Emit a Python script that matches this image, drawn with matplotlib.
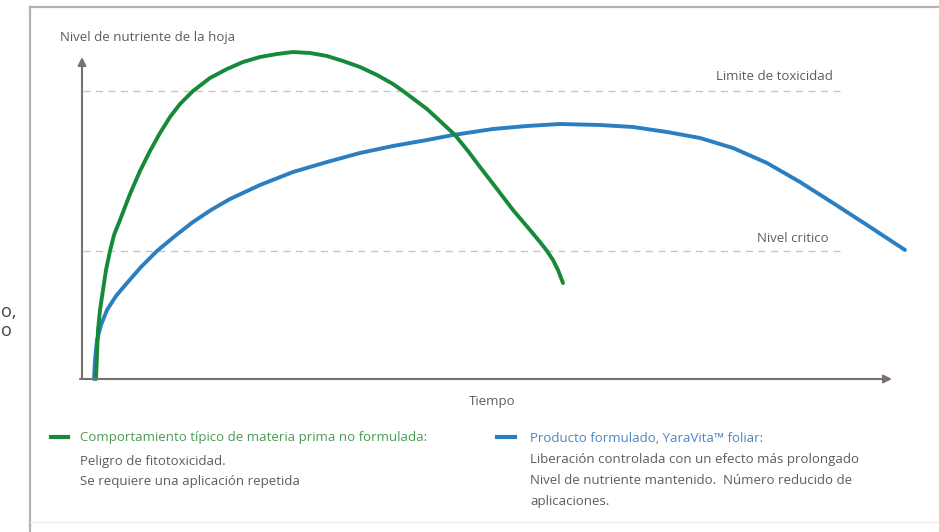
import matplotlib.pyplot as plt
from matplotlib.lines import Line2D

plt.rcParams['font.family'] = ['Open Sans', 'DejaVu Sans']

# Curvas (unidades arbitrarias: tiempo 0-810, nivel 0-320)
t_materia = [14, 15, 16, 18, 21, 24, 28, 32, 38, 48, 58, 68, 78, 88, 98, 111, 128, 145, 161, 178, 195,
             211, 228, 245, 261, 278, 295, 311, 321, 345, 358, 373, 386, 398, 415, 431, 448, 458, 465, 471, 476, 481]
n_materia = [0, 24, 49, 69, 89, 109, 128, 144, 159, 185, 208, 228, 246, 262, 275, 288, 301, 310, 317, 322, 325,
             327, 326, 323, 318, 312, 304, 295, 288, 270, 258, 244, 228, 212, 190, 169, 149, 137, 128, 119, 109, 96]

t_yaravita = [12, 13, 15, 19, 25, 34, 45, 59, 75, 93, 111, 129, 148, 178, 211, 245, 278, 311, 345, 371,
              411, 445, 478, 518, 551, 585, 618, 651, 685, 718, 751, 785, 823]
n_yaravita = [0, 19, 39, 54, 69, 83, 96, 112, 128, 143, 157, 169, 180, 194, 207, 217, 226, 233, 239, 244,
              250, 253, 255, 254, 252, 247, 241, 231, 216, 197, 176, 154, 129]

limite_toxicidad = 288
nivel_critico = 128

W, H = 939, 532
fig = plt.figure(figsize=(W / 100, H / 100), dpi=100)

def px(x, y):
    return x / W, 1 - y / H

# marco de la pagina
fig.add_artist(Line2D([30 / W, 1], [1 - 7 / H] * 2, color='#b8afab', lw=1.6, transform=fig.transFigure))
fig.add_artist(Line2D([30 / W] * 2, [0, 1 - 7 / H], color='#b8afab', lw=1.6, transform=fig.transFigure))
fig.add_artist(Line2D([30 / W, 1], [1 - 522 / H] * 2, color='#efeceb', lw=0.8, transform=fig.transFigure))

# area del grafico
ax = fig.add_axes([82 / W, (H - 379) / H, 810 / W, 320 / H])
ax.set_xlim(0, 810)
ax.set_ylim(0, 320)
ax.axis('off')

eje = '#7a706d'
ax.annotate('', xy=(0, 322), xytext=(0, 0), annotation_clip=False,
            arrowprops=dict(arrowstyle='-|>', color=eje, lw=1.5, mutation_scale=12, shrinkA=0, shrinkB=0))
ax.annotate('', xy=(810, 0), xytext=(-2, 0), annotation_clip=False,
            arrowprops=dict(arrowstyle='-|>', color=eje, lw=1.5, mutation_scale=12, shrinkA=0, shrinkB=0))

# lineas de referencia
for nivel in (limite_toxicidad, nivel_critico):
    ax.plot([1, 763], [nivel, nivel], color='#cdc3c2', lw=1.0, dashes=(5, 4))

gris = '#625a5a'
ax.text(751, limite_toxicidad + 14, 'Limite de toxicidad', ha='right', va='center', fontsize=9.5, color=gris)
ax.text(747, nivel_critico + 13, 'Nivel critico', ha='right', va='center', fontsize=9.5, color=gris)

verde = '#178a3a'
azul = '#2a7ec2'
ax.plot(t_yaravita, n_yaravita, color=azul, lw=2.8, solid_capstyle='round', solid_joinstyle='round', clip_on=False)
ax.plot(t_materia, n_materia, color=verde, lw=2.8, solid_capstyle='round', solid_joinstyle='round', clip_on=False)

fig.text(*px(60, 38), 'Nivel de nutriente de la hoja', ha='left', va='center', fontsize=9.5, color=gris)
fig.text(*px(492, 401), 'Tiempo', ha='center', va='center', fontsize=9.5, color=gris)

# leyenda
fig.add_artist(Line2D([51 / W, 68 / W], [1 - 437 / H] * 2, color=verde, lw=3, transform=fig.transFigure))
fig.text(*px(80, 437), 'Comportamiento típico de materia prima no formulada:', ha='left', va='center', fontsize=9.5, color='#4a9a55')
fig.text(*px(80, 461), 'Peligro de fitotoxicidad.', ha='left', va='center', fontsize=9.5, color=gris)
fig.text(*px(80, 482), 'Se requiere una aplicación repetida', ha='left', va='center', fontsize=9.5, color=gris)

fig.add_artist(Line2D([497 / W, 515 / W], [1 - 437 / H] * 2, color=azul, lw=3, transform=fig.transFigure))
fig.text(*px(530, 438), 'Producto formulado, YaraVita™ foliar:', ha='left', va='center', fontsize=9.5, color='#4a86c4')
fig.text(*px(530, 460), 'Liberación controlada con un efecto más prolongado', ha='left', va='center', fontsize=9.5, color=gris)
fig.text(*px(530, 481), 'Nivel de nutriente mantenido.  Número reducido de', ha='left', va='center', fontsize=9.5, color=gris)
fig.text(*px(530, 502), 'aplicaciones.', ha='left', va='center', fontsize=9.5, color=gris)

# restos del texto de la pagina a la izquierda
fig.text(*px(1, 317), 'o,', ha='left', va='baseline', fontsize=13, color='#4a4444')
fig.text(*px(1, 336), 'o', ha='left', va='baseline', fontsize=13, color='#4a4444')

fig.savefig('out.png', dpi=100)
